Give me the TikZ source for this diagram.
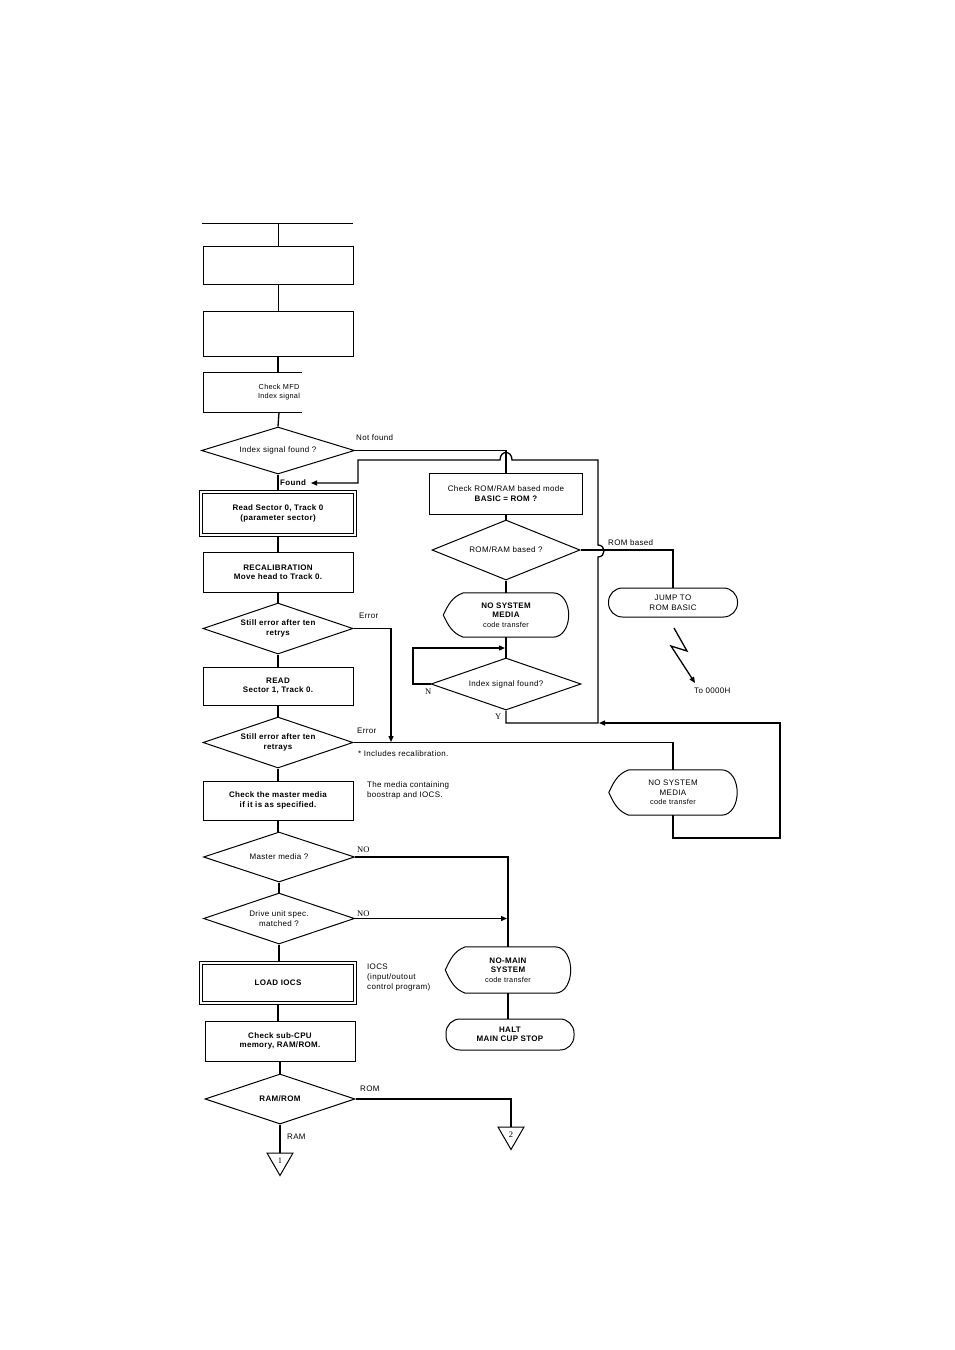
\documentclass[tikz,border=0pt]{standalone}
\usepackage{fontspec}
\setmainfont[LetterSpace=4]{Liberation Sans}
\newfontfamily\serifN{Liberation Serif}
\usetikzlibrary{shapes.geometric,arrows.meta}
\newcommand\myNodeFont{\fontsize{8}{9.5}\selectfont}
\newcommand\myLabFont{\fontsize{8}{10}\selectfont}
\newcommand\mySmallFont{\fontsize{7.3}{9}\selectfont}
\newcommand\dispoutline[1]{%
  \draw[line width=1pt] ([xshift=20pt]#1.north west) -- ([xshift=-16pt]#1.north east)
    to[out=0,in=90] (#1.east) to[out=-90,in=0] ([xshift=-16pt]#1.south east)
    -- ([xshift=20pt]#1.south west) to[out=160,in=-65] (#1.west)
    to[out=65,in=200] ([xshift=20pt]#1.north west) -- cycle;}
\tikzset{
  conn/.style={line width=1.3pt},
  thinl/.style={line width=0.8pt},
  box/.style={draw,line width=1pt,rectangle,inner sep=0pt,align=center,font=\myNodeFont},
  dbox/.style={box,double,double distance=2.6pt,line width=0.9pt,outer sep=2.2pt},
  dia/.style={draw,diamond,aspect=3,line width=1pt,inner sep=0pt,align=center,font=\myNodeFont},
  term/.style={draw,line width=1pt,rectangle,rounded corners=14pt,inner sep=0pt,align=center,font=\myNodeFont},
  disp/.style={rectangle,inner sep=0pt,align=center,font=\myNodeFont},
  lab/.style={anchor=west,inner sep=0pt,align=left,font=\myLabFont},
  serlab/.style={lab,font=\serifN\fontsize{8.5}{9}\selectfont},
  tri/.style={draw,line width=1pt,regular polygon,regular polygon sides=3,shape border rotate=180,minimum size=30pt,inner sep=0pt,font=\serifN\fontsize{8.5}{9}\selectfont},
  arr/.style={-{Triangle[length=6pt,width=5pt]}},
}
\begin{document}
\begin{tikzpicture}[x=1pt,y=-1pt]
\fill[white] (0,0) rectangle (954,1350);
\useasboundingbox (0,0) rectangle (954,1350);

% top part
\coordinate (tl) at (202,223);
\coordinate (tr) at (353,223);
\coordinate (tm) at (278,223);
\node[box,thinl,minimum width=150pt,minimum height=38pt] (b1) at (278,265) {};
\node[box,thinl,minimum width=150pt,minimum height=45pt] (b2) at (278,333.5) {};
\node[box,draw=none,minimum width=150pt,minimum height=39pt,font=\mySmallFont] (mfd) at (279,392.5) {Check MFD\\Index signal};
\draw[line width=1pt] ([xshift=98pt]mfd.north west) -- (mfd.north west) -- (mfd.south west) -- ([xshift=98pt]mfd.south west);
\draw[thinl] (tl) -- (tr);
\draw[thinl] (tm) -- (b1.north);
\draw[thinl] (b1.south) -- (b2.north);
\draw[conn] (b2.south) -- (b2.south |- mfd.north);

% main column
\node[dia,minimum width=153pt,minimum height=47pt] (d1) at (278,450.5) {Index signal found ?};
\node[dbox,minimum width=154pt,minimum height=43pt] (rs) at (278,513.5) {\bfseries Read Sector 0, Track 0\\\bfseries (parameter sector)};
\node[box,minimum width=150pt,minimum height=40pt] (rc) at (278,572) {\bfseries RECALIBRATION\\\bfseries Move head to Track 0.};
\node[dia,minimum width=150pt,minimum height=51pt] (d3) at (278,628.5) {\bfseries Still error after ten\\\bfseries retrys};
\node[box,minimum width=150pt,minimum height=38pt] (rd) at (278,686) {\bfseries READ\\\bfseries Sector 1, Track 0.};
\node[dia,minimum width=150pt,minimum height=51pt] (d5) at (278,742.5) {\bfseries Still error after ten\\\bfseries retrays};
\node[box,minimum width=150pt,minimum height=39pt] (cm) at (278,800.5) {\bfseries Check the master media\\\bfseries if it is as specified.};
\node[dia,minimum width=151pt,minimum height=50pt] (mm) at (279,857) {Master media ?};
\node[dia,minimum width=151pt,minimum height=51pt] (du) at (279,918.5) {Drive unit spec.\\matched ?};
\node[dbox,minimum width=154pt,minimum height=40pt] (li) at (278,983) {\bfseries LOAD IOCS};
\node[box,minimum width=150pt,minimum height=40pt] (sc) at (280,1041) {\bfseries Check sub-CPU\\\bfseries memory, RAM/ROM.};
\node[dia,minimum width=150pt,minimum height=50pt] (rr) at (280,1099) {\bfseries RAM/ROM};
\node[tri] (t1) at (280,1160.5) {1};
\node[tri] (t2) at (511,1134.5) {2};

% right part
\node[box,minimum width=153pt,minimum height=41pt] (cr) at (506,493.5) {Check ROM/RAM based mode\\\bfseries BASIC = ROM ?};
\node[dia,minimum width=148pt,minimum height=60pt] (rb) at (506,550) {ROM/RAM based ?};
\node[disp,minimum width=125pt,minimum height=44pt] (ns1) at (506,615) {\bfseries NO SYSTEM\\\bfseries MEDIA\\{\mySmallFont code transfer}};
\dispoutline{ns1}
\node[dia,minimum width=150pt,minimum height=52pt] (ix) at (506,684) {Index signal found?};
\node[term,minimum width=129pt,minimum height=29pt] (jp) at (673,602.5) {JUMP TO\\ROM BASIC};
\node[disp,minimum width=128pt,minimum height=45pt] (ns2) at (673,792.5) {NO SYSTEM\\MEDIA\\{\mySmallFont code transfer}};
\dispoutline{ns2}
\node[disp,minimum width=125pt,minimum height=46pt] (nm) at (508,970) {\bfseries NO-MAIN\\\bfseries SYSTEM\\{\mySmallFont code transfer}};
\dispoutline{nm}
\node[term,minimum width=128pt,minimum height=31pt] (ht) at (510,1034.5) {\bfseries HALT\\\bfseries MAIN CUP STOP};

% main column connectors
\draw[conn] (mfd.south) -- (d1.north);
\draw[conn] (d1.south) -- (rs.north);
\draw[conn] (rs.south) -- (rc.north);
\draw[conn] (rc.south) -- (d3.north);
\draw[conn] (d3.south) -- (rd.north);
\draw[conn] (rd.south) -- (d5.north);
\draw[conn] (d5.south) -- (cm.north);
\draw[conn] (cm.south) -- (cm.south |- mm.north);
\draw[conn] (mm.south) -- (du.north);
\draw[conn] (du.south) -- (du.south |- li.north);
\draw[conn] (li.south) -- (li.south |- sc.north);
\draw[conn] (sc.south) -- (rr.north);
\draw[conn] (rr.south) -- (t1.north);
\draw[conn] (rr.east) -| (t2.north);

% right connectors
\draw[conn] (d1.east) -| (cr.north);
\draw[conn] (cr.south) -- (rb.north);
\draw[conn] (rb.east) -| (jp.north);
\draw[conn] (rb.south) -- (ns1.north);
\draw[conn] (ns1.south) -- (ix.north);

\coordinate (yb) at (598,723);
\coordinate (hA1) at (598,557);
\coordinate (hA2) at (598,545);
\coordinate (rt) at (598,460);
\coordinate (hB1) at (512,460);
\coordinate (hB2) at (500,460);
\coordinate (fl) at (358,460);
\coordinate (fl2) at (358,483);
\coordinate (fnd) at (311,483);
\draw[conn,arr] (ix.south) |- (yb) -- (hA1) .. controls (606,557) and (606,545) .. (hA2)
  -- (rt) -- (hB1) .. controls (512,450) and (500,450) .. (hB2) -- (fl) -- (fl2) -- (fnd);

\coordinate (lp1) at (413,684);
\coordinate (lp3) at (505,648);
\draw[conn,arr] (ix.west) -- (lp1) |- (lp3);

\coordinate (rl1) at (780,838);
\coordinate (rl2) at (780,723);
\coordinate (rj) at (599,723);
\draw[conn,arr] (ns2.south) |- (rl1) -- (rl2) -- (rj);
\draw[conn] (d5.east) -| (ns2.north);
\coordinate (e1) at (391,742);
\draw[conn,arr] (d3.east) -| (e1);

\draw[conn] (mm.east) -| (nm.north);
\coordinate (dj) at (507,918.5);
\draw[conn,arr] (du.east) -- (dj);
\draw[conn] (nm.south) -- (nm.south |- ht.north);

% lightning
\coordinate (lz0) at (674,628);
\coordinate (lz1) at (687,651);
\coordinate (lz2) at (671,646);
\coordinate (lz3) at (695,683);
\draw[conn,arr] (lz0) -- (lz1) -- (lz2) -- (lz3);

% labels
\node[lab] (lnf) at (356,438) {Not found};
\node[lab,font=\myLabFont\bfseries] (lfd) at (280,483) {Found};
\node[lab] (lrb) at (608,543) {ROM based};
\node[lab] (lto) at (694,691) {To 0000H};
\node[serlab] (lN) at (425,692) {N};
\node[serlab] (lY) at (495,717) {Y};
\node[lab] (le1) at (359,616) {Error};
\node[lab] (le2) at (357,731) {Error};
\node[lab] (linc) at (358,754) {* Includes recalibration.};
\node[lab] (lmed) at (367,790) {The media containing\\boostrap and IOCS.};
\node[serlab] (lno1) at (357,850) {NO};
\node[serlab] (lno2) at (357,914) {NO};
\node[lab] (liocs) at (367,978) {IOCS\\(input/outout\\control program)};
\node[lab] (lrom) at (360,1089) {ROM};
\node[lab] (lram) at (287,1137) {RAM};
\end{tikzpicture}
\end{document}
